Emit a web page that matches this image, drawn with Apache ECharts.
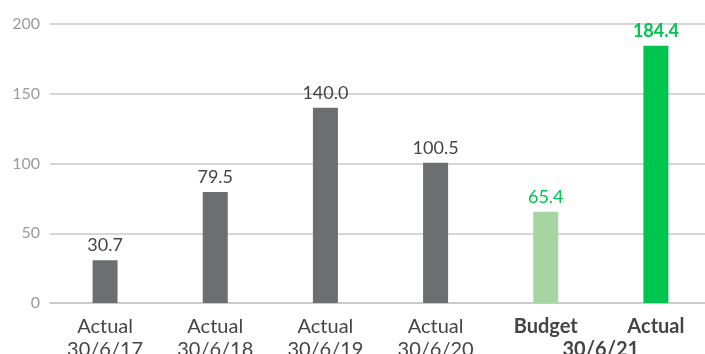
<!DOCTYPE html>
<html><head><meta charset="utf-8">
<script src="https://cdn.jsdelivr.net/npm/echarts@6/dist/echarts.min.js"></script>
<style>html,body{margin:0;padding:0;background:#fff}#c{width:705px;height:354px}</style>
</head><body><div id="c"></div>
<script>
const categories = ['Actual\n30/6/17','Actual\n30/6/18','Actual\n30/6/19','Actual\n30/6/20','Budget','Actual'];
const values = [30.7, 79.5, 140.0, 100.5, 65.4, 184.4];
const groupLabel = '30/6/21';
const yTicks = [0, 50, 100, 150, 200];

const FONT = 'Lato';
const barColors = ['#6d6e70','#6d6e70','#6d6e70','#6d6e70','#a6d5a1','#00c450'];
const labelColors = ['#454545','#454545','#454545','#454545','#00c450','#00c450'];

const chart = echarts.init(document.getElementById('c'));
chart.setOption({
  animation: false,
  grid: { left: 50, right: -6, top: 24, bottom: 51, outerBoundsMode: 'none', containLabel: false },
  xAxis: {
    type: 'category', data: categories,
    axisLine: { lineStyle: { color: '#c8c8c8', width: 1.5 } },
    axisTick: { show: false },
    axisLabel: {
      interval: 0, hideOverlap: false,
      margin: 12, lineHeight: 23, fontFamily: FONT, fontSize: 20, color: '#454545',
      formatter: (v, i) => i >= 4 ? '{b|' + v + '}' : v,
      rich: { b: { fontWeight: 'bold', fontFamily: FONT, fontSize: 20, color: '#454545', lineHeight: 23 } }
    }
  },
  yAxis: {
    type: 'value', min: yTicks[0], max: yTicks[yTicks.length-1], interval: 50,
    axisLine: { show: false }, axisTick: { show: false },
    splitLine: { lineStyle: { color: '#c8c8c8', width: 1.5 } },
    axisLabel: { margin: 10, fontFamily: FONT, fontSize: 16, color: '#9b9b9b' }
  },
  series: [{
    type: 'bar', barWidth: 25,
    data: values.map((v, i) => ({
      value: v,
      itemStyle: { color: barColors[i] },
      label: { color: labelColors[i], fontWeight: i === 5 ? 'bold' : 'normal' }
    })),
    label: {
      show: true, position: 'top', distance: 6, fontFamily: FONT, fontSize: 18,
      formatter: p => p.value.toFixed(1)
    }
  }]
});
const x1 = chart.convertToPixel({ xAxisIndex: 0 }, 4);
const x2 = chart.convertToPixel({ xAxisIndex: 0 }, 5);
const y0 = chart.convertToPixel({ yAxisIndex: 0 }, 0);
chart.setOption({
  graphic: [{
    type: 'text', x: (x1 + x2) / 2, y: y0 + 12 + 23 + 11.5,
    style: { text: groupLabel, fontFamily: FONT, fontSize: 20, fontWeight: 'bold', fill: '#454545', align: 'center', verticalAlign: 'middle' }
  }]
});
</script></body></html>
